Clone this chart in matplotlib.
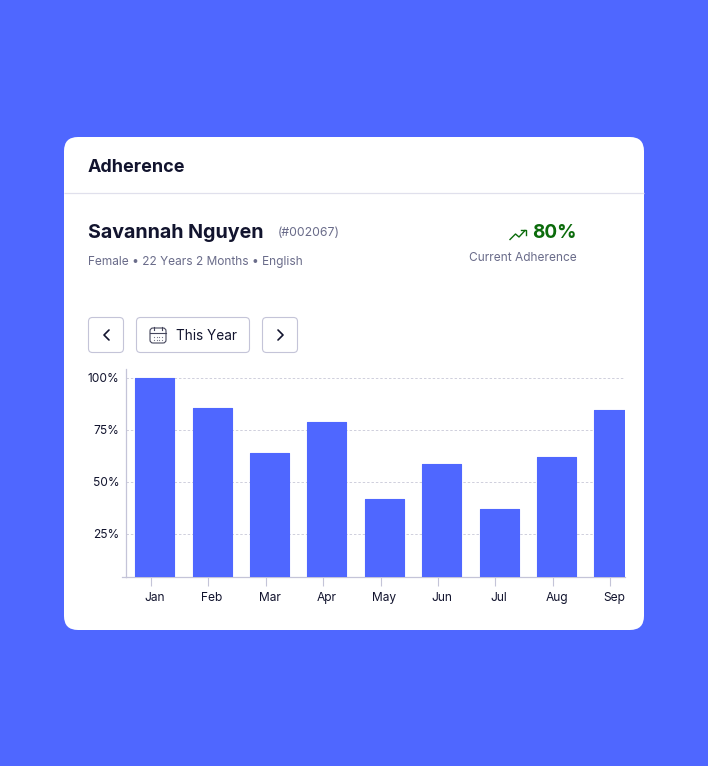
import matplotlib
matplotlib.use("Agg")
import matplotlib.pyplot as plt
from matplotlib.patches import FancyBboxPatch
import numpy as np

W, H = 708, 766

months = ["Jan", "Feb", "Mar", "Apr", "May", "Jun", "Jul", "Aug", "Sep"]
adherence = [100, 85.6, 64, 78.8, 42, 58.8, 37, 62, 84.6]
y_ticks = [25, 50, 75, 100]
y_tick_labels = ["25%", "50%", "75%", "100%"]

BLUE = "#4F67FF"
DARK = "#12142E"
GREY = "#6A6C8A"
BORDER = "#C4C4D8"
GREEN = "#0B6B0B"

plt.rcParams["font.family"] = ["Inter", "DejaVu Sans"]

fig = plt.figure(figsize=(W / 100, H / 100), dpi=100, facecolor=BLUE)

# page layer, in pixels with y going down
bg = fig.add_axes([0, 0, 1, 1], zorder=0)
bg.set_xlim(0, W)
bg.set_ylim(H, 0)
bg.axis("off")

card = FancyBboxPatch((64 + 14, 137 + 14), 580 - 28, 493 - 28,
                      boxstyle="round,pad=14,rounding_size=14",
                      fc="white", ec="none")
bg.add_patch(card)
bg.plot([64, 644], [192.5, 192.5], color="#E0E0EC", lw=0.9, solid_capstyle="butt")

px = 0.72  # points per pixel
bg.text(88, 168, "Adherence", fontsize=18 * px, fontweight="bold", color=DARK, va="center")
bg.text(88, 233, "Savannah Nguyen", fontsize=19.7 * px, fontweight="bold", color=DARK, va="center")
bg.text(277.5, 232.5, "(#002067)", fontsize=12.3 * px, color=GREY, va="center")
bg.text(88, 262.5, "Female \u2022 22 Years 2 Months \u2022 English", fontsize=11.9 * px, color=GREY, va="center")
bg.text(577, 233, "80%", fontsize=19 * px, fontweight="bold", color=GREEN, va="center", ha="right")
bg.text(577, 258, "Current Adherence", fontsize=11.9 * px, color=GREY, va="center", ha="right")

# trend arrow
bg.plot([510, 515.5, 519, 525], [239.5, 234, 237, 230.5], color=GREEN, lw=1.0, solid_joinstyle="round")
bg.plot([520.5, 525.5, 525.5], [230, 230, 235], color=GREEN, lw=1.0, solid_joinstyle="round")


def button(x, y, w, h):
    bg.add_patch(FancyBboxPatch((x + 4, y + 4), w - 8, h - 8,
                                boxstyle="round,pad=4,rounding_size=4",
                                fc="white", ec=BORDER, lw=0.8))


button(88.5, 317.5, 35, 35)
button(136.5, 317.5, 113, 35)
button(262.5, 317.5, 35, 35)

bg.plot([109, 104, 109], [330, 335, 340], color=DARK, lw=1.2, solid_joinstyle="round", solid_capstyle="round")
bg.plot([278, 283, 278], [330, 335, 340], color=DARK, lw=1.2, solid_joinstyle="round", solid_capstyle="round")
bg.text(176, 336, "This Year", fontsize=13.6 * px, color=DARK, va="center")

# calendar icon
bg.add_patch(FancyBboxPatch((153, 331), 10, 9, boxstyle="round,pad=3,rounding_size=3",
                            fc="none", ec="#45465C", lw=0.8))
bg.plot([150, 166], [332.5, 332.5], color="#45465C", lw=0.8)
bg.plot([154, 154], [326.5, 330], color="#45465C", lw=0.8)
bg.plot([162, 162], [326.5, 330], color="#45465C", lw=0.8)
for dy in [336.5, 339.5]:
    for dx in [154, 156.7, 159.4, 162]:
        bg.plot([dx], [dy], marker="s", ms=0.8, color="#7A7B8C", mew=0)

# chart
left, right, top, bottom = 126, 625, 369, 577
ax = fig.add_axes([left / W, 1 - bottom / H, (right - left) / W, (bottom - top) / H], zorder=1)
ax.patch.set_alpha(0)

step = 57.4
first = 154.7
x = np.arange(len(months))
ax.set_xlim((left - first) / step, (right - first) / step)
per_pct = 52 / 25
ax.set_ylim(100 - (bottom - 378) / per_pct, 100 + (378 - top) / per_pct)

ax.set_axisbelow(True)
ax.bar(x, adherence, width=39 / step, color=BLUE, edgecolor=BLUE, linewidth=0.8, joinstyle="round", zorder=3)

ax.set_yticks(y_ticks, y_tick_labels)
ax.tick_params(axis="y", length=0, pad=4.5, labelsize=12 * px, labelcolor=DARK)
ax.grid(axis="y", color="#CFCFDC", lw=0.7, ls=(0, (2.5, 2)))

# ticks sit a little left of the bar centres, labels do not
ax.set_xticks(x - 3.7 / step, [""] * len(months))
ax.set_xticks(x, months, minor=True)
ax.tick_params(axis="x", which="major", length=8.5 * px, width=0.8, color=BORDER)
ax.tick_params(axis="x", which="minor", length=0, pad=11, labelsize=12 * px, labelcolor=DARK)

for s in ["top", "right"]:
    ax.spines[s].set_visible(False)
for s in ["left", "bottom"]:
    ax.spines[s].set_color(BORDER)
    ax.spines[s].set_linewidth(0.9)
bg.plot([122, 126], [577, 577], color=BORDER, lw=0.9)

fig.savefig("out.png", dpi=100, facecolor=BLUE)
